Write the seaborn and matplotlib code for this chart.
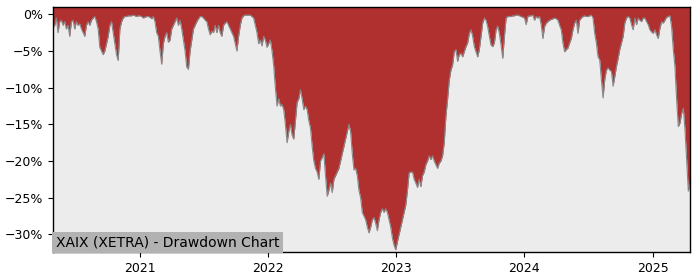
import numpy as np
import pandas as pd
import matplotlib
matplotlib.use("Agg")
import matplotlib.pyplot as plt
import matplotlib.ticker as mticker
import matplotlib.dates as mdates
import seaborn as sns

# Drawdown values (%), evenly spaced in time
dd_2020 = [-1.8, -1.5, -0.5, -2.5, -1.0, -0.8, -1.5, -1.0, -2.0, -1.5, -3.0, -1.0, -0.8, -2.0,
           -1.0, -1.5, -1.3, -2.0, -2.5, -3.0, -1.5, -1.0, -1.5, -0.8, -0.5, -0.3, -1.0, -2.0,
           -4.5, -5.0, -5.5, -5.0, -4.0, -3.0, -1.5, -1.0, -2.5, -4.0, -5.5, -6.3, -2.0, -1.0,
           -0.5, -0.3, -0.3, -0.2, -0.2, -0.2, -0.1, -0.2, -0.3, -0.2, -0.2]
dd_2021 = [-0.3, -0.5, -0.4, -0.3, -0.3, -0.4, -0.6, -0.3, -1.0, -2.5, -3.0, -5.0, -6.8, -4.0,
           -3.0, -2.5, -3.8, -3.5, -2.0, -1.5, -1.0, -0.5, -1.5, -0.8, -2.0, -3.5, -5.0, -7.2,
           -7.5, -5.0, -3.5, -2.0, -1.5, -1.0, -0.6, -0.3, -0.3, -0.5, -0.8, -1.0, -2.0, -2.8,
           -2.3, -2.5, -1.5, -2.5, -1.5, -2.5, -3.0, -1.5, -1.2, -1.0, -1.5, -2.0, -2.5, -3.0,
           -4.0, -5.0, -3.0, -1.5, -0.5, -0.2, -0.1, -0.1, -0.1, -0.1, -0.3, -0.5, -1.5, -2.5,
           -4.0, -3.5, -4.3, -3.0, -3.5, -4.5]
dd_2022 = [-4.0, -3.5, -5.0, -7.0, -10.0, -12.5, -11.5, -12.5, -12.3, -13.0, -15.0, -17.5,
           -16.0, -15.0, -16.5, -17.0, -14.5, -12.0, -11.5, -10.3, -11.5, -13.0, -12.5, -13.0,
           -14.5, -15.5, -18.0, -20.0, -21.0, -21.5, -22.5, -20.0, -19.5, -19.0, -22.0, -24.8,
           -24.0, -23.0, -24.3, -22.5, -22.0, -21.5, -21.0, -20.0, -19.0, -18.0, -17.0, -16.0,
           -15.0, -16.0, -19.0, -21.2, -21.0, -22.0, -24.0, -25.0, -27.0, -27.5, -28.0, -29.0,
           -29.8, -29.0, -28.0, -27.7, -28.5, -29.5, -28.0, -27.0, -26.5, -27.0, -26.5, -27.0,
           -28.0, -29.0, -30.5, -31.5]
dd_2023 = [-32.1, -31.0, -30.0, -29.0, -28.0, -27.0, -26.0, -24.0, -21.6, -21.5, -21.5, -22.5,
           -23.0, -23.6, -22.5, -23.5, -22.0, -21.5, -20.5, -20.0, -19.3, -19.8, -19.3, -20.0,
           -20.5, -21.0, -20.3, -20.0, -19.3, -17.5, -13.9, -11.6, -9.0, -7.6, -6.9, -5.1,
           -4.8, -6.4, -5.5, -5.3, -5.8, -5.1, -4.4, -3.9, -2.6, -2.1, -3.0, -4.4, -5.1, -5.8,
           -4.8, -3.0, -1.2, -0.5, -0.8, -1.7, -3.0, -4.2, -4.4, -3.9, -2.1, -1.6, -2.6, -4.2,
           -6.0, -3.0, -0.5, -0.3, -0.3, -0.3, -0.2, -0.2, -0.1, -0.1, -0.2, -0.3, -0.4]
dd_2024 = [-0.5, -1.4, -0.3, -0.2, -0.2, -0.1, -0.8, -0.3, -0.5, -0.3, -1.4, -3.3, -1.7,
           -1.2, -1.0, -0.8, -0.7, -0.6, -0.5, -0.6, -0.8, -1.5, -2.1, -3.9, -5.1, -4.8, -4.6,
           -3.9, -3.3, -2.1, -1.2, -0.8, -2.6, -0.8, -0.5, -0.3, -0.2, -0.3, -0.3, -0.2, -0.1,
           -0.5, -2.6, -3.9, -5.8, -6.2, -8.9, -11.4, -8.9, -7.6, -7.3, -7.6, -7.8, -9.8, -8.5,
           -7.1, -6.0, -4.8, -3.9, -3.0, -1.2, -0.5, -0.3, -0.5, -1.4, -2.1, -0.5, -1.4, -0.5,
           -0.8, -1.0, -0.5, -0.5, -1.0, -1.4, -2.1, -2.4]
dd_2025 = [-2.6, -2.1, -2.8, -3.3, -1.9, -1.0, -1.2, -0.8, -0.4, -0.3, -0.2, -1.7, -4.8,
           -7.1, -11.6, -15.3, -14.8, -13.5, -12.8, -15.7, -19.8, -24.1, -23.2]

start_date = "2020-04-27"
end_date = "2025-04-17"
title_text = "XAIX (XETRA) - Drawdown Chart"

values = np.array(dd_2020 + dd_2021 + dd_2022 + dd_2023 + dd_2024 + dd_2025)
dates = pd.date_range(start_date, end_date, periods=len(values))
df = pd.DataFrame({"date": dates, "drawdown": values})

sns.set_theme(style="white")
plt.rcParams['font.family'] = ['DejaVu Sans']

y_top = 1.0
fig = plt.figure(figsize=(7, 2.8), dpi=100)
ax = fig.add_axes([0.0757, 0.1, 0.91, 0.875])
ax.set_facecolor("#ececec")

ax.fill_between(df["date"], df["drawdown"], y_top, color="#b03030", linewidth=0)
sns.lineplot(data=df, x="date", y="drawdown", ax=ax, color="#888888", linewidth=0.8)

ax.set_xlim(df["date"].iloc[0], df["date"].iloc[-1])
ax.set_ylim(-32.4, y_top)
ax.yaxis.set_major_locator(mticker.MultipleLocator(5))
ax.yaxis.set_major_formatter(mticker.FuncFormatter(lambda v, p: f"{v:.0f}%".replace("-", "\u2212")))
ax.xaxis.set_major_locator(mdates.YearLocator())
ax.xaxis.set_major_formatter(mdates.DateFormatter("%Y"))
ax.set_xlabel("")
ax.set_ylabel("")
ax.tick_params(axis="both", labelsize=9, length=3.5, width=0.8, direction="out",
               bottom=True, left=True, colors="black")
for s in ax.spines.values():
    s.set_color("black")
    s.set_linewidth(1.0)

ax.text(0.004, 0.012, title_text, transform=ax.transAxes, fontsize=10, ha="left", va="bottom",
        color="black",
        bbox=dict(facecolor="#b2b2b2", edgecolor="none", pad=2.5), zorder=5)

fig.savefig("out.png", dpi=100)
